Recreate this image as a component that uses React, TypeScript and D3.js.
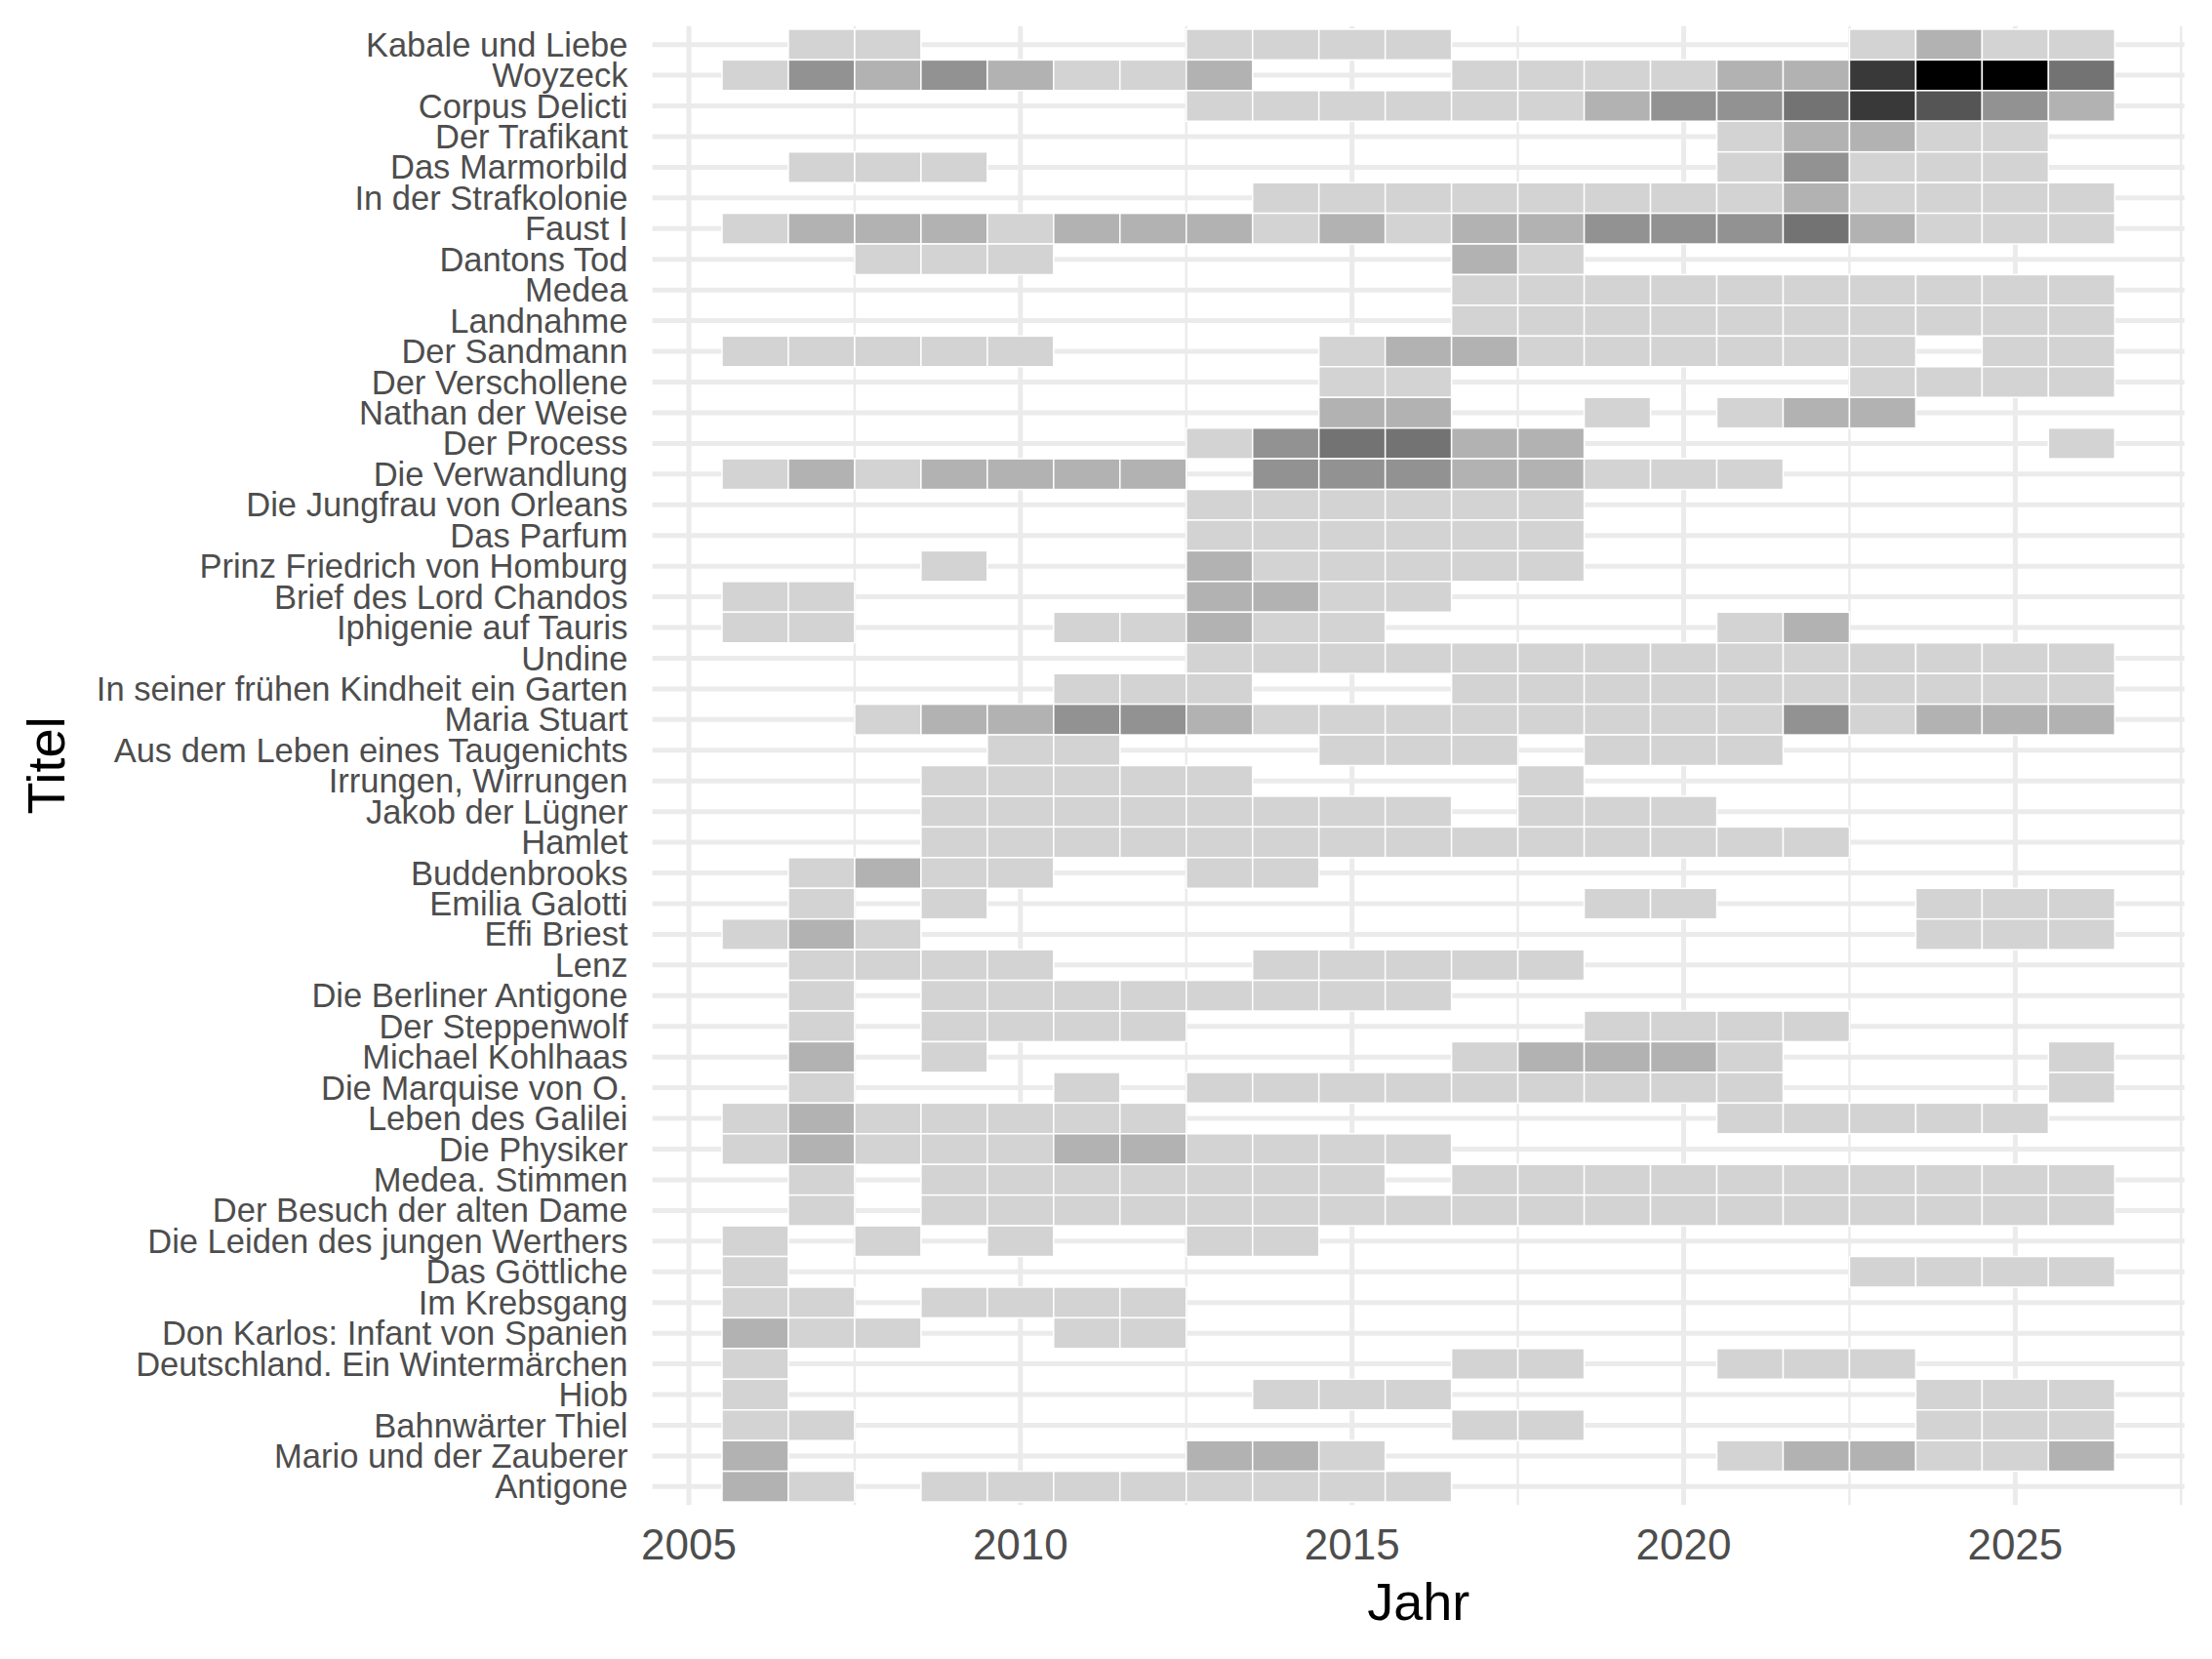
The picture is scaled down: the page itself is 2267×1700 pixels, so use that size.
import * as d3 from "d3";

// titles, top to bottom
const titles = [
  "Kabale und Liebe",
  "Woyzeck",
  "Corpus Delicti",
  "Der Trafikant",
  "Das Marmorbild",
  "In der Strafkolonie",
  "Faust I",
  "Dantons Tod",
  "Medea",
  "Landnahme",
  "Der Sandmann",
  "Der Verschollene",
  "Nathan der Weise",
  "Der Process",
  "Die Verwandlung",
  "Die Jungfrau von Orleans",
  "Das Parfum",
  "Prinz Friedrich von Homburg",
  "Brief des Lord Chandos",
  "Iphigenie auf Tauris",
  "Undine",
  "In seiner frühen Kindheit ein Garten",
  "Maria Stuart",
  "Aus dem Leben eines Taugenichts",
  "Irrungen, Wirrungen",
  "Jakob der Lügner",
  "Hamlet",
  "Buddenbrooks",
  "Emilia Galotti",
  "Effi Briest",
  "Lenz",
  "Die Berliner Antigone",
  "Der Steppenwolf",
  "Michael Kohlhaas",
  "Die Marquise von O.",
  "Leben des Galilei",
  "Die Physiker",
  "Medea. Stimmen",
  "Der Besuch der alten Dame",
  "Die Leiden des jungen Werthers",
  "Das Göttliche",
  "Im Krebsgang",
  "Don Karlos: Infant von Spanien",
  "Deutschland. Ein Wintermärchen",
  "Hiob",
  "Bahnwärter Thiel",
  "Mario und der Zauberer",
  "Antigone",
];

const years = [
  2006, 2007, 2008, 2009, 2010, 2011, 2012, 2013, 2014, 2015, 2016,
  2017, 2018, 2019, 2020, 2021, 2022, 2023, 2024, 2025, 2026,
];

// counts per title, one value per year (0 = no tile)
const counts = [
  [0, 1, 1, 0, 0, 0, 0, 1, 1, 1, 1, 0, 0, 0, 0, 0, 0, 1, 2, 1, 1],
  [1, 3, 2, 3, 2, 1, 1, 2, 0, 0, 0, 1, 1, 1, 1, 2, 2, 6, 8, 8, 4],
  [0, 0, 0, 0, 0, 0, 0, 1, 1, 1, 1, 1, 1, 2, 3, 3, 4, 6, 5, 3, 2],
  [0, 0, 0, 0, 0, 0, 0, 0, 0, 0, 0, 0, 0, 0, 0, 1, 2, 2, 1, 1, 0],
  [0, 1, 1, 1, 0, 0, 0, 0, 0, 0, 0, 0, 0, 0, 0, 1, 3, 1, 1, 1, 0],
  [0, 0, 0, 0, 0, 0, 0, 0, 1, 1, 1, 1, 1, 1, 1, 1, 2, 1, 1, 1, 1],
  [1, 2, 2, 2, 1, 2, 2, 2, 1, 2, 1, 2, 2, 3, 3, 3, 4, 2, 1, 1, 1],
  [0, 0, 1, 1, 1, 0, 0, 0, 0, 0, 0, 2, 1, 0, 0, 0, 0, 0, 0, 0, 0],
  [0, 0, 0, 0, 0, 0, 0, 0, 0, 0, 0, 1, 1, 1, 1, 1, 1, 1, 1, 1, 1],
  [0, 0, 0, 0, 0, 0, 0, 0, 0, 0, 0, 1, 1, 1, 1, 1, 1, 1, 1, 1, 1],
  [1, 1, 1, 1, 1, 0, 0, 0, 0, 1, 2, 2, 1, 1, 1, 1, 1, 1, 0, 1, 1],
  [0, 0, 0, 0, 0, 0, 0, 0, 0, 1, 1, 0, 0, 0, 0, 0, 0, 1, 1, 1, 1],
  [0, 0, 0, 0, 0, 0, 0, 0, 0, 2, 2, 0, 0, 1, 0, 1, 2, 2, 0, 0, 0],
  [0, 0, 0, 0, 0, 0, 0, 1, 3, 4, 4, 2, 2, 0, 0, 0, 0, 0, 0, 0, 1],
  [1, 2, 1, 2, 2, 2, 2, 0, 3, 3, 3, 2, 2, 1, 1, 1, 0, 0, 0, 0, 0],
  [0, 0, 0, 0, 0, 0, 0, 1, 1, 1, 1, 1, 1, 0, 0, 0, 0, 0, 0, 0, 0],
  [0, 0, 0, 0, 0, 0, 0, 1, 1, 1, 1, 1, 1, 0, 0, 0, 0, 0, 0, 0, 0],
  [0, 0, 0, 1, 0, 0, 0, 2, 1, 1, 1, 1, 1, 0, 0, 0, 0, 0, 0, 0, 0],
  [1, 1, 0, 0, 0, 0, 0, 2, 2, 1, 1, 0, 0, 0, 0, 0, 0, 0, 0, 0, 0],
  [1, 1, 0, 0, 0, 1, 1, 2, 1, 1, 0, 0, 0, 0, 0, 1, 2, 0, 0, 0, 0],
  [0, 0, 0, 0, 0, 0, 0, 1, 1, 1, 1, 1, 1, 1, 1, 1, 1, 1, 1, 1, 1],
  [0, 0, 0, 0, 0, 1, 1, 1, 0, 0, 0, 1, 1, 1, 1, 1, 1, 1, 1, 1, 1],
  [0, 0, 1, 2, 2, 3, 3, 2, 1, 1, 1, 1, 1, 1, 1, 1, 3, 1, 2, 2, 2],
  [0, 0, 0, 0, 1, 1, 0, 0, 0, 1, 1, 1, 0, 1, 1, 1, 0, 0, 0, 0, 0],
  [0, 0, 0, 1, 1, 1, 1, 1, 0, 0, 0, 0, 1, 0, 0, 0, 0, 0, 0, 0, 0],
  [0, 0, 0, 1, 1, 1, 1, 1, 1, 1, 1, 0, 1, 1, 1, 0, 0, 0, 0, 0, 0],
  [0, 0, 0, 1, 1, 1, 1, 1, 1, 1, 1, 1, 1, 1, 1, 1, 1, 0, 0, 0, 0],
  [0, 1, 2, 1, 1, 0, 0, 1, 1, 0, 0, 0, 0, 0, 0, 0, 0, 0, 0, 0, 0],
  [0, 1, 0, 1, 0, 0, 0, 0, 0, 0, 0, 0, 0, 1, 1, 0, 0, 0, 1, 1, 1],
  [1, 2, 1, 0, 0, 0, 0, 0, 0, 0, 0, 0, 0, 0, 0, 0, 0, 0, 1, 1, 1],
  [0, 1, 1, 1, 1, 0, 0, 0, 1, 1, 1, 1, 1, 0, 0, 0, 0, 0, 0, 0, 0],
  [0, 1, 0, 1, 1, 1, 1, 1, 1, 1, 1, 0, 0, 0, 0, 0, 0, 0, 0, 0, 0],
  [0, 1, 0, 1, 1, 1, 1, 0, 0, 0, 0, 0, 0, 1, 1, 1, 1, 0, 0, 0, 0],
  [0, 2, 0, 1, 0, 0, 0, 0, 0, 0, 0, 1, 2, 2, 2, 1, 0, 0, 0, 0, 1],
  [0, 1, 0, 0, 0, 1, 0, 1, 1, 1, 1, 1, 1, 1, 1, 1, 0, 0, 0, 0, 1],
  [1, 2, 1, 1, 1, 1, 1, 0, 0, 0, 0, 0, 0, 0, 0, 1, 1, 1, 1, 1, 0],
  [1, 2, 1, 1, 1, 2, 2, 1, 1, 1, 1, 0, 0, 0, 0, 0, 0, 0, 0, 0, 0],
  [0, 1, 0, 1, 1, 1, 1, 1, 1, 1, 0, 1, 1, 1, 1, 1, 1, 1, 1, 1, 1],
  [0, 1, 0, 1, 1, 1, 1, 1, 1, 1, 1, 1, 1, 1, 1, 1, 1, 1, 1, 1, 1],
  [1, 0, 1, 0, 1, 0, 0, 1, 1, 0, 0, 0, 0, 0, 0, 0, 0, 0, 0, 0, 0],
  [1, 0, 0, 0, 0, 0, 0, 0, 0, 0, 0, 0, 0, 0, 0, 0, 0, 1, 1, 1, 1],
  [1, 1, 0, 1, 1, 1, 1, 0, 0, 0, 0, 0, 0, 0, 0, 0, 0, 0, 0, 0, 0],
  [2, 1, 1, 0, 0, 1, 1, 0, 0, 0, 0, 0, 0, 0, 0, 0, 0, 0, 0, 0, 0],
  [1, 0, 0, 0, 0, 0, 0, 0, 0, 0, 0, 1, 1, 0, 0, 1, 1, 1, 0, 0, 0],
  [1, 0, 0, 0, 0, 0, 0, 0, 1, 1, 1, 0, 0, 0, 0, 0, 0, 0, 1, 1, 1],
  [1, 1, 0, 0, 0, 0, 0, 0, 0, 0, 0, 1, 1, 0, 0, 0, 0, 0, 1, 1, 1],
  [2, 0, 0, 0, 0, 0, 0, 2, 2, 1, 0, 0, 0, 0, 0, 1, 2, 2, 1, 1, 2],
  [2, 1, 0, 1, 1, 1, 1, 1, 1, 1, 1, 0, 0, 0, 0, 0, 0, 0, 0, 0, 0],
];

const xBreaks = [2005, 2010, 2015, 2020, 2025];
const xMinorBreaks = [2007.5, 2012.5, 2017.5, 2022.5, 2027.5];

const FONT = "'Liberation Sans', Arial, Helvetica, sans-serif";

export default function App() {
  const width = 2267;
  const height = 1700;
  const panel = { left: 668.6, right: 2238.7, top: 26.8, bottom: 1542.2 };

  // tiles cover year +/- 0.5, ggplot adds 5% on each side
  const lo = d3.min(years)! - 0.5;
  const hi = d3.max(years)! + 0.5;
  const pad = (hi - lo) * 0.05;
  const x = d3
    .scaleLinear()
    .domain([lo - pad, hi + pad])
    .range([panel.left, panel.right]);

  const y = d3
    .scaleBand()
    .domain(titles)
    .range([panel.top, panel.bottom])
    .paddingInner(0)
    .paddingOuter(0.1);

  const fill = d3
    .scaleLinear<string>()
    .domain([1, d3.max(counts.flat())!])
    .range(["lightgrey", "black"])
    .interpolate(d3.interpolateLab);

  const tiles: { title: string; year: number; n: number }[] = [];
  titles.forEach((t, i) => {
    counts[i].forEach((n, j) => {
      if (n > 0) tiles.push({ title: t, year: years[j], n });
    });
  });

  const bw = y.bandwidth();

  return (
    <svg
      width={width}
      height={height}
      style={{ position: "absolute", left: 0, top: 0, background: "#fff" }}
      fontFamily={FONT}
    >
      {/* grid */}
      <g stroke="#EBEBEB" fill="none">
        {xMinorBreaks.map((b) => (
          <line key={"mn" + b} x1={x(b)} x2={x(b)} y1={panel.top} y2={panel.bottom} strokeWidth={2.5} />
        ))}
        {xBreaks.map((b) => (
          <line key={"mj" + b} x1={x(b)} x2={x(b)} y1={panel.top} y2={panel.bottom} strokeWidth={5} />
        ))}
        {titles.map((t) => (
          <line
            key={"h" + t}
            x1={panel.left}
            x2={panel.right}
            y1={y(t)! + bw / 2}
            y2={y(t)! + bw / 2}
            strokeWidth={5}
          />
        ))}
      </g>

      {/* tiles */}
      <g stroke="#fff" strokeWidth={1.5}>
        {tiles.map((d) => (
          <rect
            key={d.title + d.year}
            x={x(d.year - 0.5)}
            y={y(d.title)}
            width={x(d.year + 0.5) - x(d.year - 0.5)}
            height={bw}
            fill={fill(d.n)}
          />
        ))}
      </g>

      {/* y axis labels */}
      <g fill="#4D4D4D" fontSize={34.5} textAnchor="end">
        {titles.map((t) => (
          <text key={"yl" + t} x={643.5} y={y(t)! + bw / 2} dy="0.35em">
            {t}
          </text>
        ))}
      </g>

      {/* x axis labels */}
      <g fill="#4D4D4D" fontSize={44} textAnchor="middle">
        {xBreaks.map((b) => (
          <text key={"xl" + b} x={x(b)} y={1583} dy="0.35em">
            {b}
          </text>
        ))}
      </g>

      {/* axis titles */}
      <text
        x={(panel.left + panel.right) / 2}
        y={1641}
        dy="0.35em"
        textAnchor="middle"
        fontSize={54}
        fill="#000"
      >
        Jahr
      </text>
      <text
        transform={`translate(47,${(panel.top + panel.bottom) / 2}) rotate(-90)`}
        dy="0.35em"
        textAnchor="middle"
        fontSize={54}
        fill="#000"
      >
        Titel
      </text>
    </svg>
  );
}
